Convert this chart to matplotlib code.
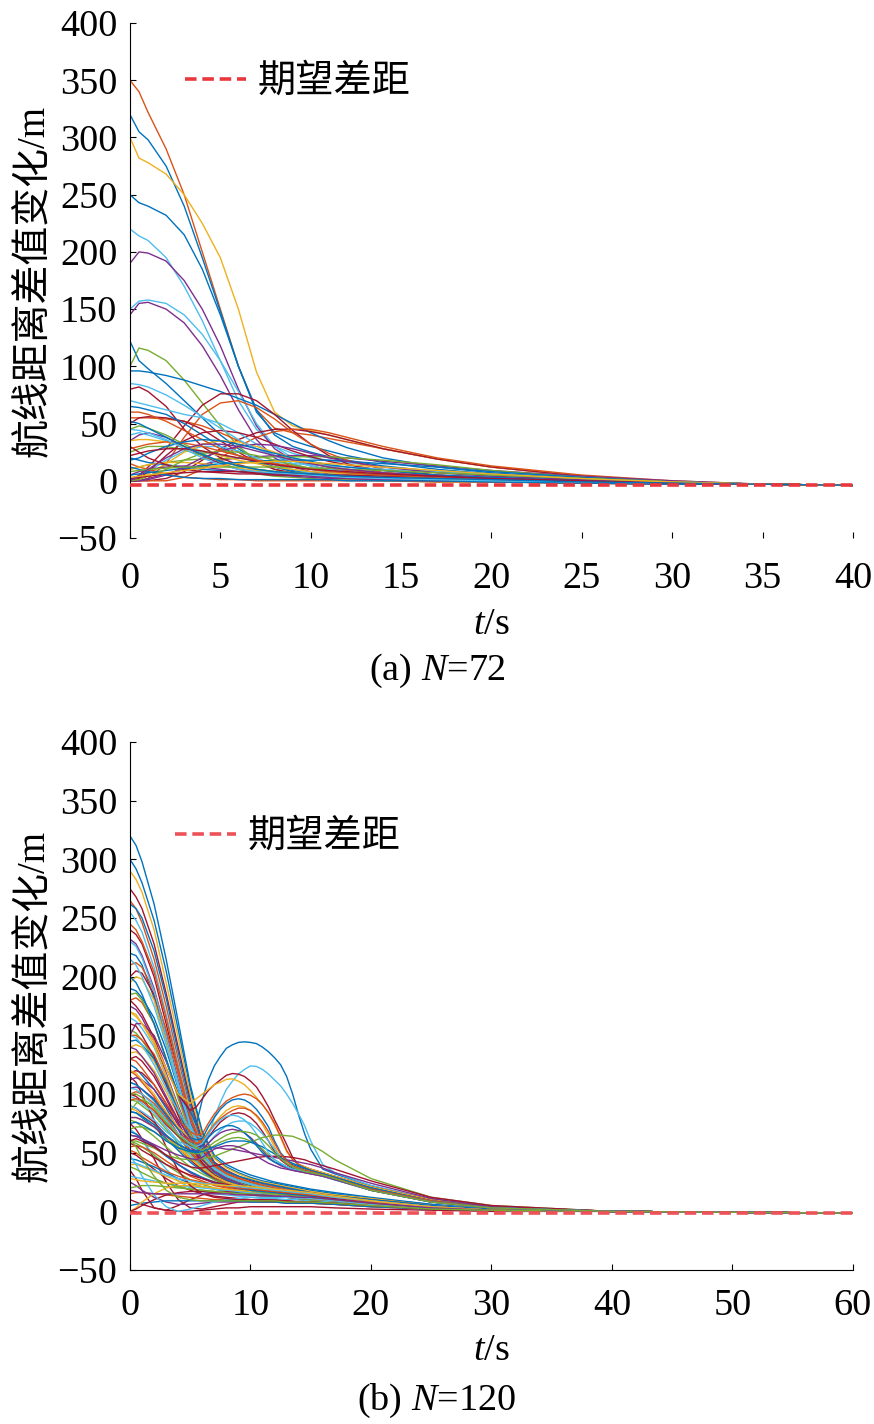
import matplotlib
matplotlib.use("Agg")
import matplotlib.pyplot as plt

plt.rcParams.update({
    'font.family': ['Liberation Serif', 'Noto Sans CJK SC'],
    'font.size': 27,
    'mathtext.fontset': 'custom',
    'mathtext.rm': 'Liberation Serif',
    'mathtext.it': 'Liberation Serif:italic',
})

# MATLAB default colour order
palette = {'b': '#0072BD', 'o': '#D95319', 'y': '#EDB120', 'p': '#7E2F8E',
           'g': '#77AC30', 'c': '#4DBEEE', 'r': '#A2142F'}

# ---------------- (a) N=72 ----------------
t_a = [0, 0.5, 1, 2, 3, 4, 5, 6, 7, 8, 9, 10, 11, 12, 14, 17, 20, 25, 30, 35, 40]
gap_a = -4

curves_a = [
    [350, 340, 322, 290, 250, 200, 150, 100, 62, 46, 42, 40, 37, 34, 28, 19, 12, 4, -1, -3, -4],
    [320, 305, 298, 275, 240, 195, 148, 100, 60, 42, 35, 30, 26, 22, 16, 10, 6, 1, -2, -3, -4],
    [300, 282, 278, 268, 250, 225, 195, 150, 95, 60, 48, 44, 40, 36, 28, 19, 12, 4, -1, -3, -4],
    [250, 243, 240, 232, 215, 185, 145, 100, 62, 40, 30, 25, 21, 18, 13, 8, 5, 1, -2, -3, -4],
    [220, 214, 210, 195, 170, 140, 105, 70, 45, 30, 24, 20, 18, 16, 12, 8, 5, 1, -2, -3, -4],
    [190, 200, 199, 192, 175, 150, 118, 80, 48, 28, 18, 13, 10, 8, 5, 3, 1, -1, -2, -3, -4],
    [145, 155, 156, 150, 138, 118, 92, 62, 36, 20, 12, 8, 6, 5, 3, 1, 0, -1, -2, -3, -4],
    [150, 157, 158, 155, 145, 128, 105, 78, 50, 30, 20, 15, 12, 10, 7, 4, 2, 0, -2, -3, -4],
    [122, 105, 98, 85, 70, 55, 40, 28, 18, 12, 8, 6, 5, 4, 3, 1, 0, -1, -2, -3, -4],
    [100, 116, 114, 105, 88, 68, 48, 30, 18, 10, 6, 4, 3, 2, 1, 0, -1, -2, -3, -3, -4],
    [96, 96, 95, 92, 88, 83, 78, 72, 66, 58, 50, 42, 35, 29, 20, 12, 7, 2, -1, -3, -4],
    [0, 5, 12, 28, 48, 66, 76, 76, 70, 58, 44, 32, 22, 15, 7, 3, 1, -1, -2, -3, -4],
    [0, 0, 2, 15, 38, 58, 68, 70, 64, 54, 42, 32, 24, 18, 10, 5, 2, 0, -2, -3, -4],
    [0, 0, 0, 2, 8, 18, 28, 36, 42, 45, 45, 43, 40, 36, 28, 19, 12, 4, -1, -3, -4],
    [0, 0, 0, 0, 3, 10, 20, 30, 38, 43, 45, 45, 42, 38, 30, 20, 13, 5, 0, -3, -4],
    [0, 0, 2, 6, 10, 14, 18, 20, 21, 22, 22, 22, 21, 20, 17, 13, 9, 4, 0, -3, -4],
    [10, 12, 14, 16, 18, 19, 19, 20, 20, 21, 21, 21, 21, 20, 18, 14, 9, 3, -1, -3, -4],
    [80, 82, 78, 65, 45, 30, 20, 14, 10, 8, 6, 5, 4, 3, 2, 1, 0, -1, -2, -3, -4],
    [55, 55, 55, 54, 52, 48, 42, 35, 28, 22, 18, 15, 12, 10, 7, 4, 2, 0, -2, -3, -4],
    [50, 55, 56, 55, 52, 45, 35, 25, 16, 10, 7, 5, 4, 3, 2, 1, 0, -1, -2, -3, -4],
    [70, 68, 66, 62, 58, 55, 50, 42, 32, 22, 15, 10, 7, 5, 3, 1, 0, -1, -2, -3, -4],
    [65, 64, 62, 58, 50, 40, 30, 22, 16, 12, 9, 7, 5, 4, 3, 1, 0, -1, -2, -3, -4],
    [45, 48, 46, 40, 32, 24, 16, 10, 6, 4, 3, 2, 1, 1, 0, -1, -1, -2, -3, -3, -4],
    [35, 40, 42, 38, 30, 22, 15, 10, 8, 6, 5, 4, 3, 2, 1, 0, -1, -2, -3, -3, -4],
    [0, 3, 8, 18, 26, 30, 30, 26, 20, 14, 10, 7, 5, 4, 2, 1, 0, -1, -2, -3, -4],
    [0, 2, 6, 15, 25, 32, 35, 34, 30, 25, 20, 16, 13, 10, 7, 4, 2, 0, -2, -3, -4],
    [0, 2, 8, 22, 35, 42, 44, 42, 38, 32, 26, 21, 17, 14, 9, 5, 3, 0, -2, -3, -4],
    [20, 18, 16, 14, 12, 10, 9, 8, 7, 6, 6, 5, 5, 4, 3, 2, 1, 0, -2, -3, -4],
    [15, 12, 10, 6, 3, 2, 1, 1, 0, 0, 0, 0, 0, 0, 0, -1, -1, -2, -3, -3, -4],
    [10, 12, 14, 16, 16, 15, 13, 11, 9, 8, 7, 6, 5, 4, 3, 2, 1, 0, -2, -3, -4],
    [5, 8, 10, 12, 13, 12, 10, 8, 6, 5, 4, 3, 2, 2, 1, 0, 0, -1, -2, -3, -4],
    [25, 28, 30, 30, 27, 22, 17, 13, 10, 8, 7, 6, 5, 4, 3, 1, 0, -1, -2, -3, -4],
    [40, 42, 40, 35, 30, 25, 22, 20, 18, 16, 15, 14, 13, 12, 10, 7, 4, 1, -1, -3, -4],
    [30, 25, 20, 14, 10, 8, 7, 6, 6, 5, 5, 5, 4, 4, 3, 2, 1, 0, -2, -3, -4],
    [5, 6, 7, 9, 11, 13, 15, 16, 17, 18, 18, 18, 18, 17, 15, 12, 8, 3, -1, -3, -4],
    [60, 60, 58, 52, 44, 36, 28, 22, 18, 15, 13, 11, 10, 9, 7, 4, 2, 0, -2, -3, -4],
    [35, 36, 36, 34, 30, 26, 22, 18, 15, 12, 10, 8, 7, 6, 4, 2, 1, -1, -2, -3, -4],
    [0, 0, 1, 5, 12, 20, 26, 30, 32, 31, 28, 24, 20, 17, 12, 7, 4, 1, -1, -3, -4],
    [0, 1, 4, 10, 18, 24, 26, 25, 22, 18, 14, 11, 9, 7, 5, 3, 1, 0, -2, -3, -4],
    [85, 84, 82, 75, 66, 56, 46, 36, 28, 22, 17, 13, 10, 8, 5, 3, 1, -1, -2, -3, -4],
    [2, 3, 4, 6, 7, 8, 8, 8, 7, 7, 6, 6, 5, 5, 4, 3, 2, 0, -2, -3, -4],
    [12, 10, 8, 5, 3, 2, 2, 1, 1, 1, 1, 1, 1, 0, 0, 0, -1, -2, -3, -3, -4],
    [28, 30, 32, 34, 33, 30, 26, 22, 18, 15, 12, 10, 8, 7, 5, 3, 1, -1, -2, -3, -4],
    [18, 20, 24, 30, 34, 36, 35, 32, 28, 24, 20, 17, 14, 12, 9, 5, 3, 0, -2, -3, -4],
    [45, 44, 42, 36, 28, 20, 14, 10, 8, 7, 6, 5, 4, 3, 2, 1, 0, -1, -2, -3, -4],
    [8, 9, 10, 11, 12, 12, 12, 12, 12, 12, 12, 11, 11, 10, 9, 7, 5, 2, -1, -3, -4],
    [0, 4, 10, 20, 28, 32, 32, 30, 26, 22, 18, 15, 12, 10, 7, 4, 2, 0, -2, -3, -4],
    [22, 24, 26, 28, 28, 26, 23, 20, 17, 14, 12, 10, 9, 8, 6, 4, 2, 0, -2, -3, -4],
    [3, 4, 5, 7, 9, 11, 13, 15, 16, 17, 17, 16, 15, 14, 12, 9, 6, 2, -1, -3, -4],
    [52, 50, 46, 38, 30, 23, 17, 13, 10, 8, 7, 6, 5, 4, 3, 2, 1, -1, -2, -3, -4],
]
colors_a = list("obybcppcbg" "broropgror" "cbgpcyrboy" "pgcrboypgc" "rb" "obcgpryb")

# ---------------- (b) N=120 ----------------
t_b = [0, 0.5, 1, 2, 3, 4, 5, 6, 7, 8, 9, 10, 11, 12, 13, 14, 15, 17, 20, 25, 30, 40, 60]
gap_b = -1.5

curves_b = [
    [320, 312, 298, 262, 215, 162, 108, 68, 48, 40, 35, 31, 28, 25, 23, 21, 19, 16, 12, 6, 2, 0, -1.5],
    [300, 292, 280, 248, 205, 155, 105, 66, 46, 38, 33, 29, 26, 24, 22, 20, 18, 15, 11, 6, 2, 0, -1.5],
    [290, 283, 272, 240, 195, 148, 100, 64, 45, 37, 32, 28, 25, 23, 21, 19, 17, 14, 11, 5, 2, 0, -1.5],
    [275, 268, 258, 228, 186, 140, 95, 60, 42, 35, 30, 26, 24, 22, 20, 18, 16, 13, 10, 5, 2, 0, -1.5],
    [265, 258, 246, 215, 175, 130, 88, 56, 40, 33, 29, 25, 23, 21, 19, 17, 15, 12, 9, 5, 2, 0, -1.5],
    [255, 248, 238, 208, 168, 125, 84, 54, 38, 32, 28, 25, 22, 20, 18, 16, 15, 12, 9, 5, 2, 0, -1.5],
    [240, 236, 228, 200, 160, 118, 80, 52, 37, 31, 27, 24, 22, 20, 18, 16, 14, 12, 9, 4, 1, 0, -1.5],
    [232, 228, 218, 190, 152, 112, 76, 50, 36, 30, 26, 23, 21, 19, 17, 15, 14, 11, 8, 4, 1, 0, -1.5],
    [220, 218, 210, 182, 145, 106, 72, 48, 35, 29, 25, 22, 20, 18, 16, 15, 13, 11, 8, 4, 1, 0, -1.5],
    [200, 205, 203, 185, 150, 110, 75, 50, 36, 30, 26, 23, 21, 19, 17, 15, 14, 11, 8, 4, 1, 0, -1.5],
    [195, 200, 198, 180, 145, 108, 74, 50, 37, 31, 27, 24, 22, 20, 18, 16, 15, 12, 9, 4, 1, 0, -1.5],
    [190, 188, 182, 165, 138, 105, 74, 50, 37, 31, 27, 24, 21, 19, 17, 16, 14, 11, 8, 4, 1, 0, -1.5],
    [180, 182, 178, 160, 130, 98, 68, 46, 34, 28, 24, 21, 19, 17, 16, 14, 13, 10, 8, 4, 1, 0, -1.5],
    [175, 172, 165, 145, 118, 90, 64, 44, 32, 27, 23, 20, 18, 17, 15, 14, 12, 10, 7, 3, 1, 0, -1.5],
    [165, 162, 156, 140, 115, 88, 62, 42, 30, 25, 22, 19, 17, 16, 14, 13, 12, 10, 7, 3, 1, 0, -1.5],
    [155, 152, 146, 130, 108, 84, 60, 42, 31, 26, 22, 19, 17, 16, 14, 13, 12, 10, 7, 3, 1, 0, -1.5],
    [150, 150, 146, 134, 112, 86, 62, 44, 33, 27, 23, 20, 18, 16, 15, 13, 12, 10, 7, 3, 1, 0, -1.5],
    [140, 142, 140, 128, 108, 84, 62, 44, 33, 27, 23, 20, 18, 16, 15, 14, 12, 10, 7, 3, 1, 0, -1.5],
    [130, 132, 128, 115, 96, 76, 56, 40, 30, 25, 21, 18, 16, 15, 13, 12, 11, 9, 6, 3, 1, 0, -1.5],
    [125, 122, 116, 104, 88, 70, 52, 38, 29, 24, 20, 18, 16, 14, 13, 12, 11, 9, 6, 3, 1, 0, -1.5],
    [118, 120, 118, 108, 92, 74, 56, 41, 31, 26, 22, 19, 17, 15, 14, 13, 12, 9, 7, 3, 1, 0, -1.5],
    [110, 108, 104, 94, 80, 65, 50, 37, 28, 23, 20, 17, 15, 14, 13, 12, 11, 9, 6, 3, 1, 0, -1.5],
    [105, 106, 104, 96, 84, 70, 55, 42, 32, 26, 22, 19, 17, 15, 14, 13, 12, 10, 7, 3, 1, 0, -1.5],
    [100, 102, 100, 92, 80, 66, 52, 40, 31, 26, 22, 19, 17, 16, 14, 13, 12, 10, 7, 3, 1, 0, -1.5],
    [95, 94, 90, 82, 70, 58, 46, 36, 28, 23, 20, 17, 15, 14, 13, 12, 11, 9, 6, 3, 1, 0, -1.5],
    [90, 88, 84, 76, 65, 54, 44, 35, 28, 23, 20, 18, 16, 14, 13, 12, 11, 9, 6, 3, 1, 0, -1.5],
    [85, 84, 80, 72, 62, 52, 42, 34, 27, 23, 20, 17, 15, 14, 13, 12, 11, 9, 6, 3, 1, 0, -1.5],
    [80, 80, 78, 72, 64, 55, 46, 38, 31, 26, 22, 19, 17, 15, 14, 13, 12, 10, 7, 3, 1, 0, -1.5],
    [75, 70, 62, 45, 25, 10, 3, 2, 4, 6, 8, 9, 10, 10, 10, 10, 9, 8, 6, 3, 1, 0, -1.5],
    [70, 66, 60, 48, 36, 26, 20, 17, 15, 14, 13, 12, 11, 11, 10, 10, 9, 8, 6, 3, 1, 0, -1.5],
    [65, 64, 62, 56, 48, 40, 33, 28, 24, 21, 19, 17, 16, 15, 14, 13, 12, 10, 7, 3, 1, 0, -1.5],
    [60, 58, 55, 48, 40, 33, 27, 23, 20, 18, 16, 15, 14, 13, 12, 11, 10, 9, 6, 3, 1, 0, -1.5],
    [55, 56, 55, 50, 43, 36, 30, 26, 22, 20, 18, 17, 16, 15, 14, 13, 12, 10, 7, 3, 1, 0, -1.5],
    [50, 48, 44, 36, 28, 22, 18, 15, 13, 12, 11, 10, 10, 9, 9, 8, 8, 7, 5, 2, 1, 0, -1.5],
    [45, 44, 42, 38, 33, 28, 24, 21, 19, 17, 16, 15, 14, 13, 12, 12, 11, 9, 7, 3, 1, 0, -1.5],
    [40, 40, 38, 34, 30, 26, 23, 21, 19, 18, 17, 16, 15, 14, 13, 12, 11, 10, 7, 3, 1, 0, -1.5],
    [35, 28, 18, 3, 1, 5, 10, 14, 16, 17, 17, 17, 16, 15, 14, 13, 12, 10, 7, 3, 1, 0, -1.5],
    [30, 29, 28, 26, 24, 22, 21, 20, 19, 18, 17, 16, 15, 14, 13, 12, 12, 10, 7, 3, 1, 0, -1.5],
    [25, 22, 18, 12, 8, 6, 6, 7, 8, 8, 8, 8, 8, 8, 7, 7, 7, 6, 4, 2, 1, 0, -1.5],
    [20, 21, 22, 22, 21, 20, 19, 18, 17, 16, 15, 14, 13, 12, 12, 11, 10, 9, 6, 3, 1, 0, -1.5],
    [15, 16, 16, 15, 14, 13, 12, 11, 10, 10, 9, 9, 8, 8, 8, 7, 7, 6, 4, 2, 1, 0, -1.5],
    [10, 8, 6, 3, 1, 0, 0, 1, 2, 3, 3, 4, 4, 4, 4, 4, 4, 3, 2, 1, 0, 0, -1.5],
    [5, 6, 7, 8, 9, 9, 9, 9, 9, 9, 9, 8, 8, 8, 7, 7, 7, 6, 4, 2, 1, 0, -1.5],
    [0, 3, 8, 15, 20, 22, 22, 21, 20, 19, 18, 17, 16, 15, 14, 13, 12, 10, 7, 3, 1, 0, -1.5],
    [0, 2, 5, 10, 14, 16, 17, 17, 16, 16, 15, 14, 13, 13, 12, 11, 11, 9, 6, 3, 1, 0, -1.5],
    [48, 40, 30, 14, 4, 0, 2, 5, 8, 10, 11, 12, 12, 12, 12, 11, 11, 9, 6, 3, 1, 0, -1.5],
    [38, 36, 33, 28, 24, 21, 19, 18, 17, 16, 15, 15, 14, 14, 13, 13, 12, 10, 7, 3, 1, 0, -1.5],
    [150, 160, 160, 150, 128, 100, 72, 50, 36, 30, 26, 23, 21, 19, 17, 16, 15, 12, 9, 4, 1, 0, -1.5],
    [210, 212, 208, 188, 155, 118, 80, 54, 39, 32, 28, 25, 22, 20, 18, 17, 15, 12, 9, 4, 1, 0, -1.5],
    [262, 258, 250, 222, 182, 136, 92, 58, 41, 34, 30, 27, 24, 22, 20, 18, 16, 13, 10, 5, 2, 0, -1.5],
    [115, 110, 100, 78, 55, 35, 22, 15, 12, 11, 10, 10, 9, 9, 9, 8, 8, 7, 5, 2, 1, 0, -1.5],
    [135, 136, 132, 120, 102, 82, 62, 46, 36, 30, 26, 23, 20, 18, 17, 15, 14, 11, 8, 4, 1, 0, -1.5],
    [230, 226, 216, 188, 150, 110, 74, 50, 37, 31, 27, 24, 22, 20, 18, 16, 15, 12, 9, 4, 1, 0, -1.5],
    [85, 92, 95, 90, 78, 64, 50, 38, 30, 25, 21, 18, 16, 15, 14, 13, 12, 10, 7, 3, 1, 0, -1.5],
    [245, 240, 230, 204, 165, 122, 82, 54, 39, 32, 28, 25, 22, 20, 18, 16, 15, 12, 9, 4, 1, 0, -1.5],
    [215, 210, 200, 175, 142, 106, 72, 48, 36, 30, 26, 23, 21, 19, 17, 15, 14, 11, 8, 4, 1, 0, -1.5],
    [185, 186, 180, 160, 130, 96, 66, 45, 34, 28, 24, 21, 19, 17, 16, 14, 13, 10, 8, 4, 1, 0, -1.5],
    [170, 168, 160, 142, 116, 88, 62, 43, 32, 27, 23, 20, 18, 17, 15, 14, 12, 10, 7, 3, 1, 0, -1.5],
    [160, 158, 150, 132, 108, 82, 58, 41, 31, 26, 22, 19, 17, 16, 14, 13, 12, 10, 7, 3, 1, 0, -1.5],
    [145, 146, 142, 130, 110, 86, 62, 44, 33, 27, 23, 20, 18, 16, 15, 14, 12, 10, 7, 3, 1, 0, -1.5],
    [120, 116, 110, 98, 82, 66, 50, 38, 29, 24, 21, 18, 16, 15, 13, 12, 11, 9, 6, 3, 1, 0, -1.5],
    [112, 114, 112, 104, 90, 74, 58, 44, 34, 28, 24, 20, 18, 16, 15, 14, 13, 10, 7, 3, 1, 0, -1.5],
    [98, 96, 92, 84, 72, 60, 48, 38, 30, 25, 21, 18, 16, 15, 13, 12, 11, 9, 6, 3, 1, 0, -1.5],
    [88, 86, 82, 74, 64, 54, 45, 37, 30, 25, 22, 19, 17, 15, 14, 13, 12, 10, 7, 3, 1, 0, -1.5],
    [78, 76, 72, 64, 55, 46, 38, 32, 27, 23, 20, 18, 16, 15, 14, 13, 12, 10, 7, 3, 1, 0, -1.5],
    [68, 66, 62, 55, 47, 40, 34, 29, 25, 22, 20, 18, 17, 16, 15, 14, 13, 11, 8, 3, 1, 0, -1.5],
    [58, 56, 52, 46, 40, 35, 31, 28, 25, 23, 21, 19, 18, 17, 16, 15, 14, 11, 8, 4, 1, 0, -1.5],
    [52, 50, 46, 40, 34, 30, 27, 25, 23, 21, 20, 19, 18, 17, 16, 15, 14, 12, 8, 4, 1, 0, -1.5],
    [42, 41, 39, 35, 31, 28, 26, 24, 23, 22, 21, 20, 19, 18, 17, 16, 15, 12, 9, 4, 1, 0, -1.5],
    [28, 27, 26, 25, 24, 24, 24, 23, 23, 22, 22, 21, 20, 19, 18, 17, 16, 13, 9, 4, 1, 0, -1.5],
    [18, 17, 16, 15, 15, 15, 15, 15, 15, 15, 14, 14, 14, 13, 13, 12, 12, 10, 7, 3, 1, 0, -1.5],
    [62, 55, 45, 30, 18, 12, 10, 9, 9, 9, 9, 9, 9, 9, 8, 8, 8, 7, 5, 2, 1, 0, -1.5],
]
colors_b = list("bbyrocrpb" "rybopcgoy" "rbrcpogrb" "yrcpgorby" "rcpgorbyr" "cgpobrycg"
                "ocgyrbopcygbrocypg")

# curves with a second hump around t = 8-13 s, read on a finer time grid
t_b_hump = [0, 0.5, 1, 2, 3, 4, 5, 5.5, 6, 6.5, 7, 7.5, 8, 8.5, 9, 9.5, 10, 10.5,
            11, 11.5, 12, 12.5, 13, 13.5, 14, 14.5, 15, 16, 17, 20, 25, 30, 40, 60]
curves_b_hump = [
    [200, 195, 185, 160, 130, 100, 85, 74, 95, 112, 124, 132, 139, 142, 144, 144.5, 144, 143,
     140, 136, 131, 125, 115, 100, 82, 66, 53, 36, 32, 22, 10, 4, 0, -1.5],
    [150, 148, 142, 125, 105, 85, 70, 65, 62, 64, 80, 93, 104, 111, 117, 121, 124, 123.5,
     121, 117, 112, 107, 100, 92, 83, 73, 60, 40, 33, 22, 10, 4, 0, -1.5],
    [180, 175, 168, 148, 122, 100, 86, 89, 96, 103, 108, 112, 116, 117.5, 117, 115, 111, 106,
     98, 89, 78, 68, 57, 46, 40, 38, 36, 33, 30, 21, 10, 4, 0, -1.5],
    [170, 166, 160, 145, 122, 100, 92, 96, 100, 104, 108, 110, 112.5, 113, 111, 108, 103, 97,
     91, 84, 74, 63, 51, 44, 40, 38, 36, 33, 30, 21, 10, 4, 0, -1.5],
    [110, 108, 104, 95, 82, 70, 63, 61, 62, 72, 80, 87, 92, 95, 96, 95, 92, 87,
     80, 72, 60, 50, 44, 40, 38, 36, 34, 32, 29, 20, 9, 4, 0, -1.5],
    [120, 118, 112, 100, 85, 72, 62, 58, 60, 68, 75, 81, 86, 89, 90, 89, 86, 81,
     74, 65, 55, 46, 41, 38, 36, 35, 33, 31, 28, 19, 9, 3, 0, -1.5],
    [100, 98, 94, 86, 74, 64, 57, 55, 56, 63, 70, 76, 80, 83, 84, 83, 80, 75,
     68, 60, 51, 44, 40, 37, 35, 34, 33, 31, 28, 19, 9, 3, 0, -1.5],
    [90, 88, 85, 78, 68, 60, 55, 53, 54, 58, 64, 69, 73, 76, 77, 77, 75, 71,
     66, 60, 53, 46, 41, 38, 36, 34, 33, 31, 28, 18, 9, 3, 0, -1.5],
    [80, 80, 78, 72, 64, 57, 52, 51, 53, 58, 63, 67, 69, 70, 69, 67, 63, 58,
     52, 46, 42, 39, 37, 35, 34, 33, 32, 30, 28, 18, 8, 3, 0, -1.5],
    [70, 72, 72, 68, 61, 55, 50, 49, 50, 53, 56, 59, 61, 62.5, 63, 62, 60, 57,
     53, 48, 44, 41, 38, 36, 35, 34, 33, 31, 28, 18, 8, 3, 0, -1.5],
    [130, 128, 122, 108, 92, 78, 68, 65, 66, 75, 83, 89, 94, 97, 99, 100, 99, 96,
     91, 84, 75, 64, 52, 44, 40, 37, 35, 32, 29, 19, 9, 3, 0, -1.5],
    [60, 60, 58, 54, 48, 45, 44, 44, 45, 46, 47, 49, 51, 53, 55, 57, 59, 61,
     63, 64, 65, 65, 64.5, 64, 62, 60, 57, 51, 44, 28, 12, 5, 0, -1.5],
    [140, 138, 132, 118, 98, 78, 62, 58, 56, 55, 54, 54, 53, 53, 52, 51, 50, 49,
     48, 47, 46, 45, 44, 43, 42, 41, 40, 37, 33, 24, 11, 4, 0, -1.5],
    [60, 62, 60, 55, 48, 42, 38, 37, 37, 38, 39, 40, 41, 42, 43, 44, 45, 46,
     46.5, 47, 47, 47, 46.5, 46, 45, 44, 42, 39, 36, 26, 12, 5, 0, -1.5],
    [75, 76, 74, 68, 60, 54, 51, 50, 51, 53, 55, 57, 59, 60, 60, 60, 59, 57,
     55, 52, 49, 46, 43, 41, 39, 37, 35, 32, 29, 20, 9, 3, 0, -1.5],
    [95, 96, 94, 86, 75, 66, 60, 58, 60, 67, 74, 79, 83, 86, 88, 88, 86, 82,
     76, 68, 58, 49, 43, 39, 37, 35, 34, 31, 28, 19, 9, 3, 0, -1.5],
    [85, 84, 81, 74, 65, 57, 52, 51, 56, 63, 68, 71, 73, 73, 71, 67, 62, 56,
     50, 45, 42, 40, 38, 36, 35, 34, 33, 30, 27, 18, 8, 3, 0, -1.5],
    [105, 104, 100, 90, 78, 66, 58, 55, 58, 66, 73, 78, 81, 82, 81, 78, 73, 66,
     58, 50, 44, 41, 38, 36, 35, 34, 33, 30, 27, 18, 8, 3, 0, -1.5],
    [65, 64, 62, 57, 52, 48, 45, 44, 46, 50, 53, 55, 56, 56, 55, 53, 50, 47,
     44, 41, 39, 37, 36, 35, 34, 33, 32, 30, 27, 18, 8, 3, 0, -1.5],
    [100, 100, 97, 88, 76, 65, 57, 54, 52, 55, 59, 62, 65, 67, 68, 68, 67, 65,
     61, 56, 50, 45, 41, 38, 36, 34, 33, 31, 28, 18, 8, 3, 0, -1.5],
]
colors_b_hump = list("bcrybyrcpg" "ogprbobcpg")

yticks = list(range(-50, 401, 50))


def draw_panel(ax, groups, gap, gap_color, xmax, xstep, show_bottom, xpad, leg_xy):
    for t, curves, colors in groups:
        for vals, c in zip(curves, colors):
            ax.plot(t, vals, color=palette[c], lw=1.0, solid_joinstyle='round')
    ax.plot([0, xmax], [gap, gap], color=gap_color, lw=2.6, ls=(0, (3.2, 1.6)),
            label='期望差距', zorder=5)
    ax.set_xlim(0, xmax)
    ax.set_ylim(-50, 400)
    ax.set_yticks(yticks)
    ax.set_xticks(range(0, xmax + 1, xstep))
    ax.spines['top'].set_visible(False)
    ax.spines['right'].set_visible(False)
    ax.spines['bottom'].set_visible(show_bottom)
    ax.tick_params(axis='both', direction='in', length=4, width=0.8, labelsize=27.5)
    ax.tick_params(axis='x', pad=xpad)
    ax.tick_params(axis='y', pad=9)
    ax.set_xlabel('$t$/s', fontsize=27.5, labelpad=8)
    ax.set_ylabel('航线距离差值变化/m', fontsize=28, labelpad=4)
    ax.legend(loc='center left', bbox_to_anchor=leg_xy, frameon=False,
              borderpad=0, borderaxespad=0, handlelength=1.6, handletextpad=0.3,
              fontsize=27.5)


fig = plt.figure(figsize=(8.74, 14.24), dpi=100)
ax1 = fig.add_axes([0.1487, 0.6222, 0.8272, 0.3616])
ax2 = fig.add_axes([0.1487, 0.1081, 0.8272, 0.3708])

draw_panel(ax1, [(t_a, curves_a, colors_a)], gap_a, '#E8383D', 40, 5, False, 17,
           (0.076, 0.885))
draw_panel(ax2, [(t_b, curves_b, colors_b), (t_b_hump, curves_b_hump, colors_b_hump)],
           gap_b, '#EC5258', 60, 10, True, 13, (0.062, 0.820))

fig.text(0.5, 0.529, '(a) $N$=72', ha='center', va='center', fontsize=27.5)
fig.text(0.5, 0.016, '(b) $N$=120', ha='center', va='center', fontsize=27.5)

fig.savefig('out.png', dpi=100)
